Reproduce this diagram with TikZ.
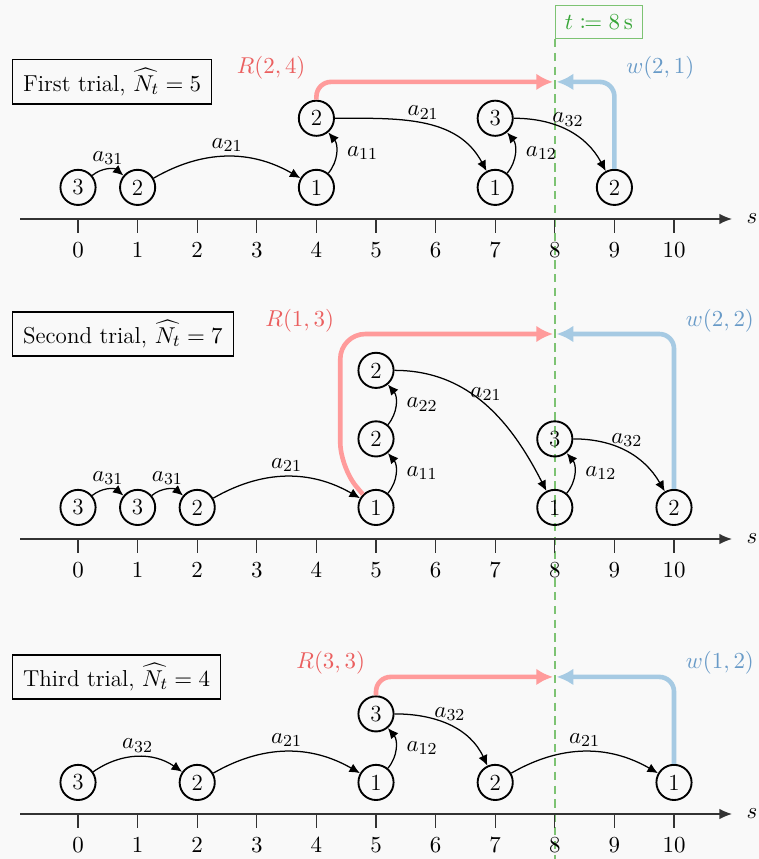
\documentclass[tikz,border=0pt]{standalone}
\usepackage{amsmath,amssymb,mathtools}
\usepackage{tikz}
\usetikzlibrary{arrows.meta}

\definecolor{bgcol}{RGB}{249,249,249}
\definecolor{rline}{RGB}{255,155,155}
\definecolor{rtext}{RGB}{235,95,95}
\definecolor{bline}{RGB}{166,202,227}
\definecolor{btext}{RGB}{105,155,200}
\definecolor{gline}{RGB}{125,195,115}
\definecolor{gtext}{RGB}{55,165,55}

\begin{document}
\begin{tikzpicture}[x=1cm,y=1cm,
    font=\fontsize{11}{13}\selectfont,
    st/.style={circle,draw,line width=0.9pt,minimum size=0.59cm,inner sep=0pt},
    tr/.style={-{Latex[length=5pt,width=4.5pt]},semithick},
    lab/.style={midway,above,inner sep=2pt},
    rlab/.style={midway,right,inner sep=2pt,xshift=3pt},
    rpath/.style={rline,line width=2.2pt,rounded corners=7pt,-{Latex[length=8pt,width=8pt]}},
    bpath/.style={bline,line width=2.2pt,rounded corners=7pt,-{Latex[length=8pt,width=8pt]}},
    titlebox/.style={draw,semithick,anchor=west,inner xsep=5pt,minimum height=0.74cm},
    axis/.style={draw=black!80,semithick}]

  % background and frame size
  \fill[bgcol] (-1.309,-14.413) rectangle (11.426,0);
  \useasboundingbox (-1.309,-14.413) rectangle (11.426,0);

  % observation time
  \draw[gline,line width=0.9pt,dash pattern=on 4pt off 2.6pt] (8,-0.654) -- (8,-14.413);
  \node[draw=gline,text=gtext,semithick,anchor=south west,minimum width=1.46cm,minimum height=0.55cm,inner sep=2pt] (tbox) at (8,-0.654) {$t \coloneqq 8\,\mathrm{s}$};

  % first trial
  \begin{scope}[yshift=-3.674cm]
    \draw[axis,-{Latex[length=6pt,width=5pt]}] (-0.973,0) -- (10.973,0);
    \node (s1) at (11.31,0) {$s$};
    \foreach \i in {0,...,10} {
      \draw[axis] (\i,0) -- (\i,-0.235);
      \node (x1\i) at (\i,-0.52) {$\i$};
    }
    \node[titlebox] (t1) at (-1.107,2.30) {First trial, $\widehat{N_t} = 5$};
    \node[st] (a) at (0,0.53) {3};
    \node[st] (b) at (1,0.53) {2};
    \node[st] (c) at (4,0.53) {1};
    \node[st] (d) at (4,1.69) {2};
    \node[st] (e) at (7,0.53) {1};
    \node[st] (f) at (7,1.69) {3};
    \node[st] (g) at (9,0.53) {2};
    \draw[tr] (a) to[bend left=40] node[lab] {$a_{31}$} (b);
    \draw[tr] (b) to[bend left=30] node[lab] {$a_{21}$} (c);
    \draw[tr] (c) to[bend right=40] node[rlab] {$a_{11}$} (d);
    \draw[tr] (d.east) to[out=0,in=118] node[lab] {$a_{21}$} (e);
    \draw[tr] (e) to[bend right=40] node[rlab] {$a_{12}$} (f);
    \draw[tr] (f.east) to[out=0,in=118] node[lab] {$a_{32}$} (g);
    \coordinate (r1) at (7.97,2.30);
    \coordinate (w1) at (8.03,2.30);
    \draw[rpath] (d.north) |- (r1);
    \draw[bpath] (g.north) |- (w1);
    \node[text=rtext] (rl1) at (3.24,2.53) {$R(2,4)$};
    \node[text=btext] (wl1) at (9.77,2.53) {$w(2,1)$};
  \end{scope}

  % second trial
  \begin{scope}[yshift=-9.044cm]
    \draw[axis,-{Latex[length=6pt,width=5pt]}] (-0.973,0) -- (10.973,0);
    \node (s2) at (11.31,0) {$s$};
    \foreach \i in {0,...,10} {
      \draw[axis] (\i,0) -- (\i,-0.235);
      \node (x2\i) at (\i,-0.52) {$\i$};
    }
    \node[titlebox] (t2) at (-1.107,3.44) {Second trial, $\widehat{N_t} = 7$};
    \node[st] (a) at (0,0.53) {3};
    \node[st] (b) at (1,0.53) {3};
    \node[st] (c) at (2,0.53) {2};
    \node[st] (d) at (5,0.53) {1};
    \node[st] (e) at (5,1.68) {2};
    \node[st] (f) at (5,2.83) {2};
    \node[st] (g) at (8,0.53) {1};
    \node[st] (h) at (8,1.68) {3};
    \node[st] (k) at (10,0.53) {2};
    \draw[tr] (a) to[bend left=40] node[lab] {$a_{31}$} (b);
    \draw[tr] (b) to[bend left=40] node[lab] {$a_{31}$} (c);
    \draw[tr] (c) to[bend left=30] node[lab] {$a_{21}$} (d);
    \draw[tr] (d) to[bend right=40] node[rlab] {$a_{11}$} (e);
    \draw[tr] (e) to[bend right=40] node[rlab] {$a_{22}$} (f);
    \draw[tr] (f.east) to[out=0,in=117] node[lab] {$a_{21}$} (g);
    \draw[tr] (g) to[bend right=40] node[rlab] {$a_{12}$} (h);
    \draw[tr] (h.east) to[out=0,in=120] node[lab] {$a_{32}$} (k);
    \coordinate (r2) at (7.97,3.44);
    \coordinate (w2) at (8.03,3.44);
    \draw[rpath,rounded corners=12pt] (d.north west) -- (4.40,1.20) -- (4.40,3.44) -- (r2);
    \draw[bpath] (k.north) |- (w2);
    \node[text=rtext] (rl2) at (3.72,3.67) {$R(1,3)$};
    \node[text=btext] (wl2) at (10.77,3.67) {$w(2,2)$};
  \end{scope}

  % third trial
  \begin{scope}[yshift=-13.658cm]
    \draw[axis,-{Latex[length=6pt,width=5pt]}] (-0.973,0) -- (10.973,0);
    \node (s3) at (11.31,0) {$s$};
    \foreach \i in {0,...,10} {
      \draw[axis] (\i,0) -- (\i,-0.235);
      \node (x3\i) at (\i,-0.52) {$\i$};
    }
    \node[titlebox] (t3) at (-1.107,2.30) {Third trial, $\widehat{N_t} = 4$};
    \node[st] (a) at (0,0.53) {3};
    \node[st] (b) at (2,0.53) {2};
    \node[st] (c) at (5,0.53) {1};
    \node[st] (d) at (5,1.68) {3};
    \node[st] (e) at (7,0.53) {2};
    \node[st] (f) at (10,0.53) {1};
    \draw[tr] (a) to[bend left=35] node[lab] {$a_{32}$} (b);
    \draw[tr] (b) to[bend left=30] node[lab] {$a_{21}$} (c);
    \draw[tr] (c) to[bend right=40] node[rlab] {$a_{12}$} (d);
    \draw[tr] (d.east) to[out=0,in=115] node[lab] {$a_{32}$} (e);
    \draw[tr] (e) to[bend left=30] node[lab] {$a_{21}$} (f);
    \coordinate (r3) at (7.97,2.30);
    \coordinate (w3) at (8.03,2.30);
    \draw[rpath] (d.north) |- (r3);
    \draw[bpath] (f.north) |- (w3);
    \node[text=rtext] (rl3) at (4.24,2.53) {$R(3,3)$};
    \node[text=btext] (wl3) at (10.77,2.53) {$w(1,2)$};
  \end{scope}
\end{tikzpicture}
\end{document}
